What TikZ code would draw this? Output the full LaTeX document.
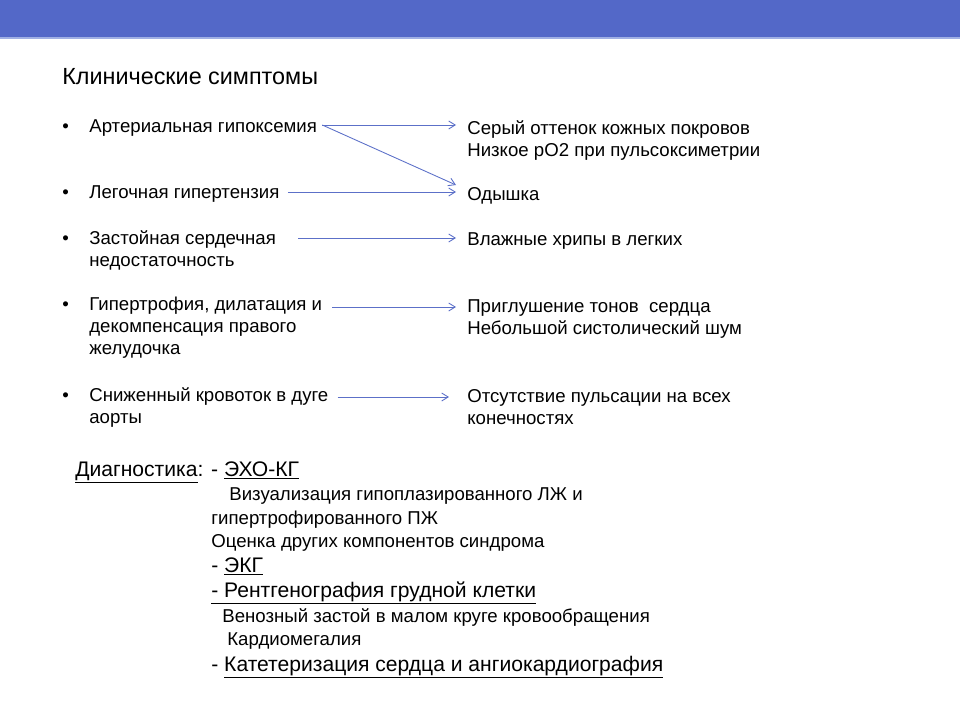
\documentclass[tikz,border=0pt]{standalone}
\usepackage{fontspec}
\setmainfont{Liberation Sans}
\usepackage{tikz}
\usetikzlibrary{positioning,arrows.meta}
\definecolor{BarBlue}{RGB}{83,104,200}
\definecolor{BarLine}{RGB}{160,176,228}
\definecolor{ArrowBlue}{RGB}{92,112,200}
\newcommand{\itemlines}[1]{\begin{tabular}[t]{@{}l@{}}#1\end{tabular}}

\begin{document}
\begin{tikzpicture}[
x=0.02cm, y=-0.02cm,
title/.style={anchor=base west, inner sep=0pt, font=\fontsize{13.3}{16}\selectfont},
item/.style={anchor=base west, inner sep=0pt, font=\fontsize{10.6}{12.75}\selectfont},
diag/.style={anchor=base west, inner sep=0pt, font=\fontsize{10.6}{12.75}\selectfont},
diaghead/.style={anchor=base west, inner sep=0pt, font=\fontsize{12}{14}\selectfont},
arrow/.style={-{Straight Barb[length=1.3mm, width=1.6mm]}, line width=0.5pt, ArrowBlue}
]
\useasboundingbox (0,0) rectangle (960,720);
\fill[BarBlue] (0,0) rectangle (960,37);
\fill[BarLine] (0,37) rectangle (960,39);

\node[title] (head) at (62,84) {Клинические симптомы};

\foreach \y in {132,198,244,310,401}
  \node[item] (dot\y) at (62,\y) {•};

\node[item] (s1) at (89,132) {Артериальная гипоксемия};
\node[item] (s2) at (89,198) {Легочная гипертензия};
\node[item] (s3) at (89,244) {\itemlines{Застойная сердечная\\недостаточность}};
\node[item] (s4) at (89,310) {\itemlines{Гипертрофия, дилатация и\\декомпенсация правого\\желудочка}};
\node[item] (s5) at (89,401) {\itemlines{Сниженный кровоток в дуге\\аорты}};

\node[item] (m1) at (467,134) {\itemlines{Серый оттенок кожных покровов\\Низкое рО2 при пульсоксиметрии}};
\node[item] (m2) at (467,200) {Одышка};
\node[item] (m3) at (467,245) {Влажные хрипы в легких};
\node[item] (m4) at (467,312) {\itemlines{Приглушение тонов \ сердца\\Небольшой систолический шум}};
\node[item] (m5) at (467,402) {\itemlines{Отсутствие пульсации на всех\\конечностях}};

\draw[arrow] ([shift={(5,-7)}]s1.base east) -- ([shift={(-11,-9)}]m1.base west);
\draw[arrow] ([shift={(5,-7)}]s1.base east) -- ([shift={(-11,-15)}]m2.base west);
\draw[arrow] ([shift={(8,-6)}]s2.base east) -- ([shift={(-11,-8)}]m2.base west);
\draw[arrow] ([shift={(22,-6)}]s3.base east) -- ([shift={(-11,-7)}]m3.base west);
\draw[arrow] ([shift={(10,-3)}]s4.base east) -- ([shift={(-11,-5)}]m4.base west);
\draw[arrow] ([shift={(9,-4)}]s5.base east) -- ([shift={(-18,-5)}]m5.base west);

\node[diaghead] (dg) at (75,476) {\underline{Диагностика}: - \underline{ЭХО-КГ}};
\node[diag] (d1) at (229,500) {Визуализация гипоплазированного ЛЖ и};
\node[diag] (d2) at (211,524) {гипертрофированного ПЖ};
\node[diag] (d3) at (211,547) {Оценка других компонентов синдрома};
\node[diaghead] (d4) at (211,572) {- \underline{ЭКГ}};
\node[diaghead] (d5) at (211,597) {\underline{- Рентгенография грудной клетки}};
\node[diag] (d6) at (222,622) {Венозный застой в малом круге кровообращения};
\node[diag] (d7) at (227,645) {Кардиомегалия};
\node[diaghead] (d8) at (211,671) {- \underline{Катетеризация сердца и ангиокардиография}};
\end{tikzpicture}
\end{document}
